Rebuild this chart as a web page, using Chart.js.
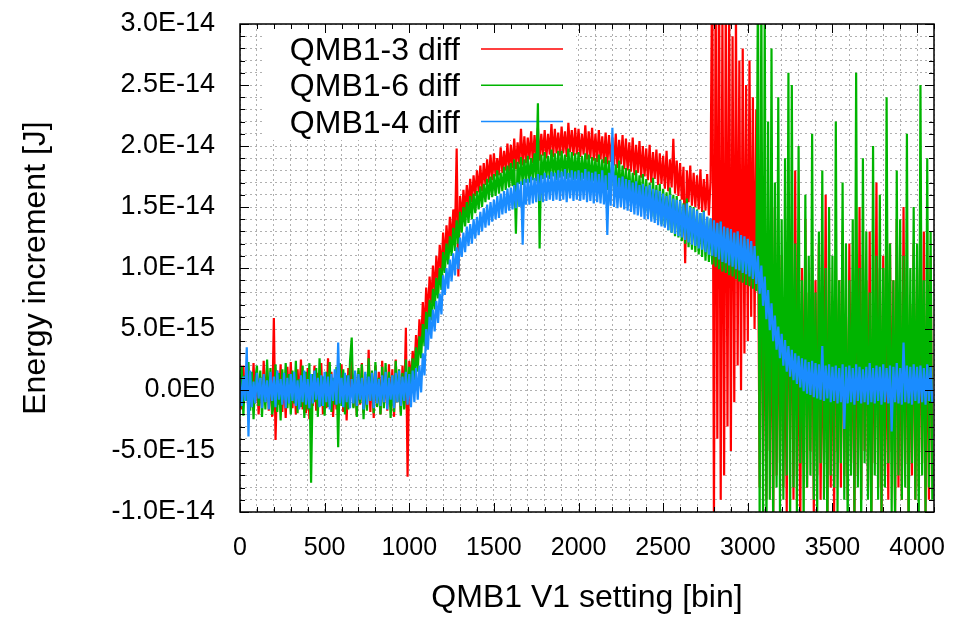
<!DOCTYPE html>
<html>
<head>
<meta charset="utf-8">
<script src="https://cdn.jsdelivr.net/npm/chart.js@4"></script>
<style>
  html, body { margin: 0; background: #fff; }
  #wrap { width: 959px; height: 617px; }
</style>
</head>
<body>
<div id="wrap"><canvas id="chart_energy_increment"></canvas></div>
<script>
// values, in units of 1E-15 J, one every 10 bins (0 .. 4090),
// one row = 100 bins
const step = 10;
const bins = Array.from({ length: 410 }, (_, i) => i * step);

const qmb13 = [
  1.2,-1.6,2.0,-0.8,1.7,-2.1,0.9,-1.4,2.2,-1.1,
  1.5,-2.0,0.7,-1.3,2.4,-0.9,1.8,-1.7,1.1,-2.2,
  5.9,-4.1,1.6,-1.2,2.1,-1.8,0.8,-2.3,1.9,-1.0,
  2.3,-1.5,1.2,-2.0,1.7,-0.7,2.5,-1.6,1.0,-1.9,
  1.8,-2.4,0.9,-1.3,2.0,-1.7,1.4,-0.9,2.2,-2.0,
  1.1,-1.5,2.6,-1.2,1.5,-2.2,0.8,-1.6,1.9,-1.1,
  2.1,-1.8,1.3,-2.5,1.8,-0.9,2.4,-1.4,1.2,-2.1,
  1.6,-1.2,2.2,-1.9,0.9,-1.5,3.3,-1.8,1.4,-2.3,
  2.0,-1.3,1.5,-2.0,2.4,-1.1,1.2,-1.7,2.1,-1.4,
  1.7,-2.2,2.5,-1.0,1.3,-1.8,2.0,-1.5,5.1,-7.1,
  2.4,0.6,3.2,1.5,4.5,2.4,5.8,3.6,7.2,4.8,
  8.4,6.0,9.3,7.1,10.2,7.9,11.0,8.8,11.9,9.6,
  12.9,10.6,13.5,11.4,14.2,11.9,14.8,12.6,19.8,9.3,
  15.9,13.9,16.4,14.5,16.8,15.0,17.3,15.4,17.6,15.9,
  18.0,16.2,18.4,16.3,18.6,16.8,18.9,17.0,19.3,17.2,
  19.4,17.5,19.0,17.6,19.9,17.8,19.6,18.0,20.2,17.9,
  20.1,18.2,20.6,18.1,20.3,18.5,21.4,18.4,20.8,18.6,
  20.7,18.9,21.2,18.6,20.9,19.0,21.5,18.8,21.0,19.2,
  21.3,19.0,21.0,19.3,21.8,19.1,21.4,19.4,21.1,19.2,
  21.6,19.4,21.2,19.1,21.9,19.5,21.3,19.2,21.5,19.3,
  21.4,19.1,21.0,19.3,21.7,18.9,21.2,19.0,21.5,18.8,
  21.0,18.7,21.3,18.9,20.8,18.6,21.1,18.5,20.9,18.7,
  20.7,18.4,21.0,18.2,20.5,18.5,20.9,18.1,20.6,18.0,
  20.3,17.9,20.7,17.6,20.1,17.8,20.4,17.4,20.0,17.5,
  19.8,17.2,20.1,17.0,19.5,17.3,19.7,16.8,19.4,16.9,
  19.2,16.5,19.6,16.3,18.9,16.6,20.6,16.1,18.8,15.9,
  18.6,15.6,18.3,10.4,18.0,15.4,18.4,15.1,17.8,15.0,
  17.6,14.8,18.1,14.6,17.3,14.7,17.7,14.3,17.2,36,
  -11,34,-4,36,-9,31,-7,33,-3,32,
  -5,29,-1,31,2,27,0,28,3,25,
  4,27,6,24,5,23,14,-8,18,-6,
  10,-9,12,-5,8,-11,15,-7,9,-6,
  11,-8,7,-10,13,-4,9,-9,18,-7,
  6,-11,10,-6,14,-8,8,-5,11,-10,
  9,-7,12,-9,5,-6,16,-11,10,-8,
  7,-10,11,-5,9,-8,13,-7,6,-9,
  12,-6,8,-11,10,-7,15,-9,11,-5,
  9,-8,13,-10,7,-6,17,-8,10,-11,
  11,-7,6,-9,12,-5,9,-10,14,-8,
  8,-9,15,-6,10,-11,7,-7,12,-9,
  10,-8,9,-6,13,-10,8,-9,11,-7
];

const qmb16 = [
  -1.5,1.9,-2.1,1.2,-0.9,2.3,-1.7,1.5,-2.4,0.8,
  2.0,-1.3,1.6,-2.2,1.1,-1.6,2.5,-1.0,1.8,-2.0,
  -1.2,2.1,-1.8,1.4,-2.5,1.7,-0.8,2.2,-1.5,1.3,
  -2.0,1.6,-1.1,2.4,-1.9,0.9,-1.4,2.0,-2.3,1.5,
  -1.6,2.2,-7.6,1.3,-1.0,1.8,-2.2,2.6,-1.3,1.1,
  -2.1,1.5,-1.4,2.3,-1.8,1.0,-1.2,1.9,-4.7,2.2,
  -1.3,1.7,-2.0,1.2,-1.6,2.4,4.3,-1.5,1.4,-2.2,
  1.8,-1.1,2.1,-2.4,1.3,-1.7,2.6,-0.9,1.6,-1.9,
  2.3,-1.4,1.0,-2.0,1.9,-1.5,2.2,-1.2,1.5,-2.3,
  1.2,-1.8,2.4,-1.0,1.7,-2.1,1.4,-1.6,2.5,-0.6,
  1.9,-0.2,2.6,0.8,3.5,1.5,4.4,2.6,5.4,3.6,
  6.4,4.6,7.4,5.7,8.3,6.6,9.2,7.5,10.0,8.2,
  11.3,9.6,12.0,10.3,12.6,11.0,13.3,11.4,13.9,12.0,
  14.6,12.9,15.0,13.4,15.4,13.7,15.9,14.0,16.1,14.5,
  16.3,14.8,16.7,15.0,16.9,15.4,17.3,15.6,17.5,15.8,
  17.7,15.9,18.0,16.1,17.8,16.3,18.3,16.4,18.4,16.6,
  18.6,16.7,18.9,12.8,18.7,16.9,19.1,16.8,18.9,17.0,
  19.2,17.0,19.0,17.2,19.4,17.1,23.5,11.6,19.3,17.3,
  19.5,17.4,19.2,17.3,19.7,17.5,19.4,17.2,19.6,17.4,
  19.6,17.5,19.3,17.3,19.8,17.4,19.5,17.2,19.4,17.3,
  19.5,17.1,19.2,17.3,19.4,17.0,19.3,16.9,19.1,17.1,
  19.0,16.8,19.3,16.6,18.9,16.7,19.1,16.4,18.8,16.5,
  18.7,16.3,18.5,16.1,18.8,15.9,18.4,16.0,18.2,15.8,
  18.1,15.5,17.8,15.3,18.0,15.2,17.6,14.9,17.7,14.8,
  17.3,14.5,17.0,14.2,17.4,14.0,16.8,13.8,16.9,13.6,
  16.5,13.4,16.2,13.1,16.6,12.9,16.0,12.6,15.9,12.5,
  15.6,12.2,15.3,12.0,15.7,11.7,15.1,11.5,15.0,11.3,
  14.8,11.1,14.5,10.9,14.7,10.6,14.2,10.5,14.0,10.3,
  13.9,10.1,13.6,9.9,13.8,9.7,13.3,9.6,13.2,9.4,
  13.0,9.3,12.8,9.1,12.9,8.9,12.5,8.8,12.4,8.6,
  12.3,8.5,12.0,8.3,11.8,8.1,34,-11,33,-10,
  31,-12,22,-9,28,-11,17,-8,24,-10,
  14,-9,19,-7,26,-11,25,-8,12,-10,
  20,-6,9,-11,16,-8,11,-7,21,-9,
  8,-10,13,-6,18,-9,10,-12,15,-7,
  11,-8,22,-10,9,-6,17,-9,12,-11,
  9,-7,14,-10,26,-8,10,-11,19,-6,
  13,-9,8,-12,20,-7,11,-9,16,-10,
  10,-8,24,-6,12,-10,9,-11,18,-7,
  14,-9,11,-8,21,-12,10,-6,15,-9,
  12,-11,25,-7,9,-10,19,-8,13,-9
];

const qmb14 = [
  0.9,-1.3,1.1,-0.9,3.5,-3.8,1.6,-1.4,0.7,-1.1,
  1.4,-0.7,1.0,-1.5,1.3,-1.0,0.8,-1.6,1.5,-0.9,
  1.1,-1.4,1.6,-0.8,0.9,-1.2,1.4,-1.5,1.0,-1.1,
  1.3,-0.9,1.5,-1.3,0.8,-1.6,1.2,-1.0,1.6,-1.2,
  0.9,-1.5,1.3,-1.1,1.6,-0.8,1.0,-1.4,1.2,-1.3,
  1.5,-1.0,1.1,-1.6,1.3,-0.9,1.7,-1.2,3.9,-1.1,
  1.0,-1.4,1.4,-1.0,1.2,-1.5,0.9,-1.1,1.6,-1.3,
  1.3,-0.8,1.0,-1.6,1.5,-1.2,1.1,-0.9,1.4,-1.5,
  1.6,-1.1,0.9,-1.3,1.2,-1.0,1.5,-1.6,1.0,-0.8,
  1.2,-1.5,1.4,-1.0,1.6,-1.3,1.1,-0.9,1.5,-1.2,
  1.3,-1.4,1.6,-1.0,1.8,-0.8,2.0,-0.2,3.0,1.2,
  5.0,3.3,6.0,4.2,6.6,4.8,7.3,5.5,7.9,6.2,
  9.4,7.8,10.0,8.3,10.7,8.9,11.2,9.4,11.7,9.9,
  12.5,10.9,12.9,11.3,13.4,11.8,13.6,12.0,14.0,12.4,
  14.2,12.7,14.6,13.0,14.9,13.3,15.2,13.5,15.4,13.8,
  15.6,14.0,15.9,14.1,16.1,14.4,16.3,14.5,16.5,14.7,
  16.6,14.8,16.8,14.9,17.0,15.0,17.1,11.9,17.3,15.2,
  17.3,15.2,17.5,15.3,17.4,15.4,17.7,15.5,17.6,15.4,
  17.8,15.5,17.6,15.6,17.9,15.5,17.8,15.6,18.0,15.5,
  17.9,15.6,18.1,15.4,17.8,15.7,18.0,15.5,17.9,15.6,
  18.0,15.5,17.8,15.6,18.1,15.4,17.9,15.5,17.8,15.3,
  17.9,15.4,17.7,15.3,18.0,15.2,17.6,12.7,17.8,15.1,
  21.5,15.0,17.6,14.9,17.4,15.0,17.5,14.8,17.3,14.7,
  17.2,14.6,17.0,14.4,17.1,14.3,16.8,14.2,16.9,14.0,
  16.7,14.0,16.8,13.8,16.5,13.7,16.4,13.5,16.3,13.4,
  16.1,13.3,15.9,13.1,16.0,12.9,15.7,12.8,15.6,12.6,
  15.5,12.5,15.2,12.3,15.3,12.1,15.0,11.9,14.9,11.8,
  14.7,11.6,14.5,11.5,14.6,11.3,14.2,11.1,14.1,11.0,
  13.9,10.9,13.7,10.7,13.8,10.5,13.4,10.4,13.3,10.2,
  13.2,10.1,12.9,9.9,13.0,9.8,12.7,9.6,12.6,9.5,
  12.4,9.3,12.2,9.1,11.8,8.7,11.0,7.9,10.2,6.9,
  9.3,5.8,8.2,4.9,7.1,4.0,6.1,3.3,5.2,2.6,
  4.6,2.0,4.1,1.5,3.6,1.1,3.3,0.8,3.0,0.5,
  2.8,0.2,2.6,-0.1,2.5,-0.3,2.3,-0.4,2.4,-0.6,
  2.2,-0.7,2.1,-0.8,3.6,-0.9,2.0,-0.7,2.1,-1.0,
  1.9,-0.9,2.0,-1.1,1.8,-1.0,2.1,-3.2,1.9,-1.1,
  2.0,-1.0,1.8,-1.2,2.1,-0.9,1.9,-1.1,1.7,-1.0,
  1.9,-1.2,2.2,-1.0,1.8,-1.1,2.0,-0.9,1.9,-1.2,
  2.1,-1.0,1.8,-1.1,2.0,-3.4,1.9,-1.0,2.2,-1.1,
  1.8,-1.2,3.9,-1.0,2.0,-1.1,1.9,-1.2,2.1,-0.9,
  1.9,-1.1,2.0,-1.0,1.8,-1.2,2.1,-0.9,1.9,-1.0
];

const seriesLabels = ['QMB1-3 diff', 'QMB1-6 diff', 'QMB1-4 diff'];
const seriesColors = ['#ff0000', '#00b400', '#1a8cff'];
const seriesValues = [qmb13, qmb16, qmb14];

const FONT = "'Liberation Sans', Arial, Helvetica, sans-serif";

// 1E-15 J units -> "2.5E-14"
const expLabel = (v) => (v * 1e-15).toExponential(1).toUpperCase().replace('+', '');

const gnuKey = {
  id: 'gnuKey',
  beforeDatasetsDraw(chart) {
    const { ctx, chartArea: a } = chart;
    ctx.save();
    ctx.fillStyle = '#fff';
    ctx.fillRect(a.left + 22, a.top + 1, 314, 115);
    ctx.font = '32px ' + FONT;
    ctx.textAlign = 'right';
    ctx.textBaseline = 'alphabetic';
    chart.data.datasets.forEach((ds, i) => {
      let base = a.top + 36 + i * 36.3;
      ctx.fillStyle = '#000';
      ctx.fillText(ds.label, a.left + 220, base);
      ctx.strokeStyle = ds.borderColor;
      ctx.lineWidth = 1.5;
      ctx.beginPath();
      ctx.moveTo(a.left + 241, base - 11);
      ctx.lineTo(a.left + 323, base - 11);
      ctx.stroke();
    });
    ctx.restore();
  }
};

const frame = {
  id: 'frame',
  afterDatasetsDraw(chart) {
    const { ctx, chartArea: a, scales: { x, y } } = chart;
    ctx.save();
    ctx.strokeStyle = '#000';
    ctx.lineWidth = 1;
    ctx.beginPath();
    x.ticks.forEach(t => {
      let px = Math.round(x.getPixelForValue(t.value)) + 0.5;
      let len = t.value % 500 === 0 ? 9 : 5;
      ctx.moveTo(px, a.bottom); ctx.lineTo(px, a.bottom - len);
      ctx.moveTo(px, a.top); ctx.lineTo(px, a.top + len);
    });
    y.ticks.forEach(t => {
      let py = Math.round(y.getPixelForValue(t.value)) + 0.5;
      let len = t.value % 5 === 0 ? 9 : 5;
      ctx.moveTo(a.left, py); ctx.lineTo(a.left + len, py);
      ctx.moveTo(a.right, py); ctx.lineTo(a.right - len, py);
    });
    ctx.stroke();
    ctx.lineWidth = 1.5;
    ctx.strokeRect(a.left, a.top, a.right - a.left, a.bottom - a.top);
    ctx.restore();
  }
};

const datasets = seriesValues.map((vals, i) => ({
  label: seriesLabels[i],
  data: vals.map((v, j) => ({ x: bins[j], y: v })),
  borderColor: seriesColors[i],
  borderWidth: 2.2,
  borderJoinStyle: 'bevel',
  pointRadius: 0,
  tension: 0,
  fill: false,
  order: seriesValues.length - i   // blue on top, red at the bottom
}));

new Chart('chart_energy_increment', {
  type: 'line',
  data: { datasets },
  plugins: [gnuKey, frame],
  options: {
    responsive: true,
    maintainAspectRatio: false,
    animation: false,
    layout: { padding: { top: 24, right: 25, left: 0, bottom: 0 } },
    plugins: {
      legend: { display: false },
      tooltip: { enabled: false }
    },
    scales: {
      x: {
        type: 'linear',
        min: 0,
        max: 4100,
        afterFit: (s) => { s.height = 105; s.paddingLeft = 0; s.paddingRight = 0; },
        grid: { color: '#b0b0b0', lineWidth: 1, drawTicks: false },
        border: { display: false, dash: [2, 3] },
        ticks: {
          stepSize: 100,
          autoSkip: false,
          maxRotation: 0,
          padding: 21,
          color: '#000',
          font: { family: FONT, size: 25 },
          callback: (v) => (v % 500 === 0 ? String(v) : '')
        },
        title: {
          display: true,
          text: 'QMB1 V1 setting [bin]',
          color: '#000',
          font: { family: FONT, size: 32 },
          padding: { top: 0, bottom: 0 }
        }
      },
      y: {
        min: -10,
        max: 30,
        afterFit: (s) => { s.width = 240; s.paddingTop = 0; s.paddingBottom = 0; },
        grid: { color: '#b0b0b0', lineWidth: 1, drawTicks: false },
        border: { display: false, dash: [2, 3] },
        ticks: {
          stepSize: 1,
          autoSkip: false,
          padding: 25,
          color: '#000',
          font: { family: FONT, size: 27 },
          callback: (v) => (v % 5 === 0 ? expLabel(v) : '')
        },
        title: {
          display: true,
          text: 'Energy increment [J]',
          color: '#000',
          font: { family: FONT, size: 32 },
          padding: { top: 17, bottom: 0 }
        }
      }
    }
  }
});
</script>
</body>
</html>
